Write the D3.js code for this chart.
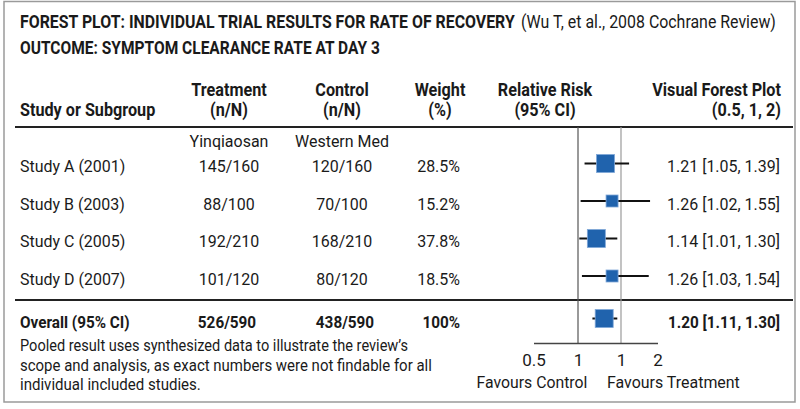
<!DOCTYPE html>
<html>
<head>
<meta charset="utf-8">
<script src="https://cdn.jsdelivr.net/npm/d3@7"></script>
<style>
  html, body { margin: 0; padding: 0; background: #fff; }
  svg { display: block; font-family: Roboto, "Liberation Sans", sans-serif; }
</style>
</head>
<body>
<svg id="chart" width="800" height="409"></svg>
<script>
// ---------------- DATA ----------------
const studies = ["Study A (2001)", "Study B (2003)", "Study C (2005)", "Study D (2007)"];
const treatEvents = [145, 88, 192, 101];
const treatTotals = [160, 100, 210, 120];
const ctrlEvents = [120, 70, 168, 80];
const ctrlTotals = [160, 100, 210, 120];
const weights = [28.5, 15.2, 37.8, 18.5];
const rrValues = [1.21, 1.26, 1.14, 1.26];
const ciLow = [1.05, 1.02, 1.01, 1.03];
const ciHigh = [1.39, 1.55, 1.30, 1.54];

const overallLabel = "Overall (95% CI)";
const overallTreat = [526, 590];
const overallCtrl = [438, 590];
const overallWeight = 100;
const overallRR = 1.20;
const overallLow = 1.11;
const overallHigh = 1.30;

const axisTicks = [0.5, 1, 1.5, 2];
const axisTickLabels = ["0.5", "1", "1", "2"];

const titleBold = "FOREST PLOT: INDIVIDUAL TRIAL RESULTS FOR RATE OF RECOVERY";
const titleNormal = "(Wu T, et al., 2008 Cochrane Review)";
const subtitle = "OUTCOME: SYMPTOM CLEARANCE RATE AT DAY 3";
const footnoteLines = [
  "Pooled result uses synthesized data to illustrate the review\u2019s",
  "scope and analysis, as exact numbers were not findable for all",
  "individual included studies."
];

// ---------------- DRAW ----------------
const svg = d3.select("#chart");
const ink = "#1a1a1a";

// text helper: slightly condensed glyphs
function T(x, y, str, o = {}) {
  const size = o.size || 17, sx = o.sx || 0.94;
  return svg.append("text")
    .attr("transform", `translate(${x},${y}) scale(${sx},1)`)
    .attr("text-anchor", o.anchor || "start")
    .attr("font-size", size)
    .attr("font-weight", o.weight || 400)
    .attr("fill", ink)
    .text(str);
}
// fit helper: horizontally scales text so it spans a given width
function F(x, y, str, width, o = {}) {
  const t = T(x, y, str, Object.assign({}, o, {sx: 1}));
  const len = t.node().getComputedTextLength();
  const sx = len > 0 ? width / len : 1;
  t.attr("transform", `translate(${x},${y}) scale(${sx},1)`);
  return t;
}

// frame
svg.append("rect").attr("x", 4).attr("y", 1.5).attr("width", 791).attr("height", 400.5)
  .attr("fill", "#fff").attr("stroke", "#9a9a9a").attr("stroke-width", 1.5);

// title
F(20, 28, titleBold, 495, {size: 19, weight: 700});
F(521, 28, titleNormal, 255, {size: 19});
F(20, 54, subtitle, 360, {size: 19, weight: 700});

// column headers
const colTreat = 229, colCtrl = 342, colWeightC = 440, colWeightR = 460, colRR = 545, colRight = 780;
const headers = [
  {x: 20, anchor: "start", lines: ["", "Study or Subgroup"]},
  {x: colTreat, anchor: "middle", lines: ["Treatment", "(n/N)"]},
  {x: colCtrl, anchor: "middle", lines: ["Control", "(n/N)"]},
  {x: colWeightC, anchor: "middle", lines: ["Weight", "(%)"]},
  {x: colRR, anchor: "middle", lines: ["Relative Risk", "(95% CI)"]},
  {x: colRight + 1, anchor: "end", lines: ["Visual Forest Plot", "(0.5, 1, 2)"]}
];
headers.forEach(h => {
  h.lines.forEach((l, i) => {
    if (!l) return;
    T(h.x, 96 + i * 20, l, {size: 18, weight: 700, sx: 0.9, anchor: h.anchor});
  });
});

// rule lines
svg.append("line").attr("x1", 15).attr("x2", 793).attr("y1", 127).attr("y2", 127)
  .attr("stroke", "#222").attr("stroke-width", 2);
svg.append("line").attr("x1", 15).attr("x2", 793).attr("y1", 300).attr("y2", 300)
  .attr("stroke", "#222").attr("stroke-width", 2);

// group labels
T(colTreat, 147, "Yinqiaosan", {anchor: "middle"});
T(colCtrl, 147, "Western Med", {anchor: "middle"});

// scales
const yRow = d3.scalePoint().domain(studies).range([163.5, 276]);
const axisX = d3.scaleLinear().domain(axisTicks).range([533.5, 578, 621, 657.5]);
const rrX = d3.scaleLinear().domain([1, 1.5]).range([axisX(1), axisX(1) + 65.5]);
const boxSize = d3.scaleThreshold().domain([20]).range([12, 18]);
const fmt2 = d3.format(".2f");

// reference verticals
svg.append("line").attr("x1", axisX(1)).attr("x2", axisX(1)).attr("y1", 127).attr("y2", 343)
  .attr("stroke", "#555").attr("stroke-width", 1.2);
svg.append("line").attr("x1", axisX(1.5)).attr("x2", axisX(1.5)).attr("y1", 127).attr("y2", 343)
  .attr("stroke", "#9a9a9a").attr("stroke-width", 1.2);

// study rows
const rows = studies.map((s, i) => ({
  name: s, te: treatEvents[i], tn: treatTotals[i], ce: ctrlEvents[i], cn: ctrlTotals[i],
  w: weights[i], rr: rrValues[i], lo: ciLow[i], hi: ciHigh[i]
}));

rows.forEach(r => {
  const cy = yRow(r.name);
  const ty = cy + 8.5;
  T(20, ty, r.name);
  T(colTreat, ty, `${r.te}/${r.tn}`, {anchor: "middle"});
  T(colCtrl, ty, `${r.ce}/${r.cn}`, {anchor: "middle"});
  T(colWeightR, ty, `${r.w.toFixed(1)}%`, {anchor: "end"});
  T(colRight, ty, `${fmt2(r.rr)} [${fmt2(r.lo)}, ${fmt2(r.hi)}]`, {anchor: "end"});
  svg.append("line").attr("x1", rrX(r.lo)).attr("x2", rrX(r.hi)).attr("y1", cy).attr("y2", cy)
    .attr("stroke", "#111").attr("stroke-width", 2);
  const s = boxSize(r.w);
  svg.append("rect").attr("x", rrX(r.rr) - s / 2).attr("y", cy - s / 2).attr("width", s).attr("height", s)
    .attr("fill", "#2063ad").attr("stroke", "#7fa7d8").attr("stroke-width", 0.8);
});

// overall row
const oy = 318.5;
const oty = 327.5;
T(20, oty, overallLabel, {weight: 700, sx: 0.9});
T(colTreat - 2, oty, `${overallTreat[0]}/${overallTreat[1]}`, {weight: 700, sx: 0.9, anchor: "middle"});
T(colCtrl + 3, oty, `${overallCtrl[0]}/${overallCtrl[1]}`, {weight: 700, sx: 0.9, anchor: "middle"});
T(colWeightR, oty, `${overallWeight}%`, {weight: 700, sx: 0.9, anchor: "end"});
T(colRight, oty, `${fmt2(overallRR)} [${fmt2(overallLow)}, ${fmt2(overallHigh)}]`,
  {weight: 700, sx: 0.9, anchor: "end"});
svg.append("line").attr("x1", rrX(overallLow)).attr("x2", rrX(overallHigh)).attr("y1", oy).attr("y2", oy)
  .attr("stroke", "#111").attr("stroke-width", 2);
{
  const s = boxSize(overallWeight);
  svg.append("rect").attr("x", rrX(overallRR) - s / 2).attr("y", oy - s / 2).attr("width", s).attr("height", s)
    .attr("fill", "#2063ad").attr("stroke", "#7fa7d8").attr("stroke-width", 0.8);
}

// axis
const axisG = svg.append("g").attr("transform", "translate(0,343)")
  .call(d3.axisBottom(axisX).tickValues(axisTicks).tickSize(0).tickPadding(9)
    .tickFormat((d, i) => axisTickLabels[i]));
axisG.select(".domain").attr("stroke", "#444").attr("stroke-width", 1.5);
axisG.selectAll("text").attr("font-size", 17).attr("font-family", "Roboto, sans-serif").attr("fill", ink)
  .attr("dy", 0).attr("y", 23);

F(476.5, 388, "Favours Control", 111);
F(607, 388, "Favours Treatment", 133);

// footnote
const footWidths = [388, 412, 181];
footnoteLines.forEach((l, i) => {
  F(20, 351 + i * 19.5, l, footWidths[i]);
});
</script>
</body>
</html>
